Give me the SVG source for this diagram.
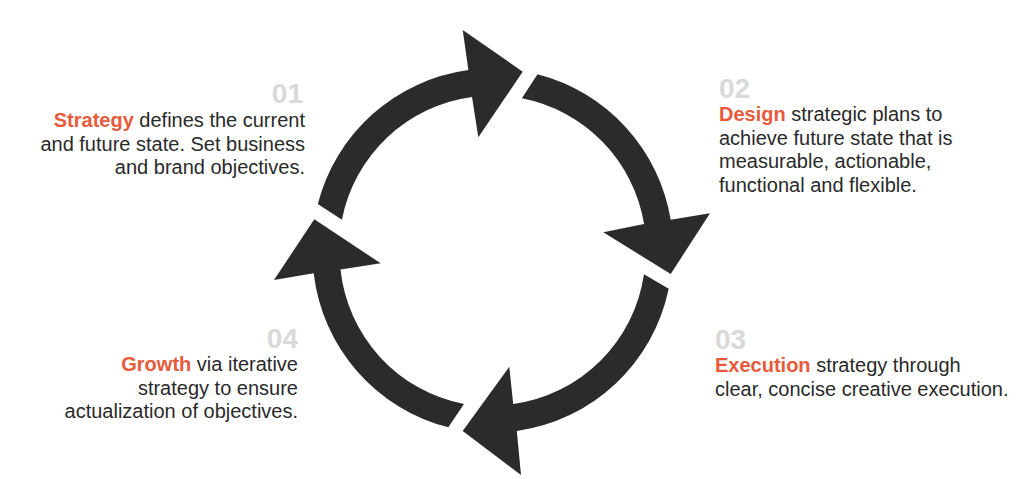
<svg xmlns="http://www.w3.org/2000/svg" width="1024" height="479" viewBox="0 0 1024 479">
<style>
.arrow{fill:#2b2b2b;}
.num{font-family:"Liberation Sans",Arial,sans-serif;font-weight:bold;font-size:28px;fill:#d9d9d9;}
.txt{font-family:"Liberation Sans",Arial,sans-serif;font-size:20px;fill:#2a2a2a;}
.key{font-weight:bold;fill:#e85a3c;}
.r{text-anchor:end;}
</style>
<rect width="1024" height="479" fill="#ffffff"/>
<g id="connectors">
<path class="arrow" d="M317.8,204.1 A180.5,180.5 0 0 1 468.4,70.1 L462.7,30 L522.7,71.7 L478.3,137.3 L472.0,96.9 A153.5,153.5 0 0 0 341.9,219.7 Z"/>
<path class="arrow" d="M537.5,74.2 A180.5,180.5 0 0 1 670.7,219.7 L710,213.3 L670.7,274 L603.3,232.3 L644.1,224.1 A153.5,153.5 0 0 0 521.9,98.3 Z"/>
<path class="arrow" d="M668.7,288.7 A180.5,180.5 0 0 1 516.8,430.9 L521,475 L462.7,431 L509.3,366.7 L513.2,404.1 A153.5,153.5 0 0 0 644.0,274.3 Z"/>
<path class="arrow" d="M448.3,427.3 A180.5,180.5 0 0 1 313.7,273.2 L274,280 L314.3,219.3 L380.7,263.3 L340.5,269.6 A153.5,153.5 0 0 0 464,404 Z"/>
</g>
<g id="step01">
<text class="num r" x="303" y="103">01</text>
<text class="txt r" x="305" y="127"><tspan class="key">Strategy</tspan> defines the current</text>
<text class="txt r" x="305" y="150.5">and future state. Set business</text>
<text class="txt r" x="305" y="174">and brand objectives.</text>
</g>
<g id="step02">
<text class="num" x="719" y="98">02</text>
<text class="txt" x="719" y="121"><tspan class="key">Design</tspan> strategic plans to</text>
<text class="txt" x="719" y="144.5">achieve future state that is</text>
<text class="txt" x="719" y="168">measurable, actionable,</text>
<text class="txt" x="719" y="191.5">functional and flexible.</text>
</g>
<g id="step03">
<text class="num" x="715" y="349">03</text>
<text class="txt" x="715" y="372"><tspan class="key">Execution</tspan> strategy through</text>
<text class="txt" x="715" y="395.5">clear, concise creative execution.</text>
</g>
<g id="step04">
<text class="num r" x="298" y="348">04</text>
<text class="txt r" x="298" y="371"><tspan class="key">Growth</tspan> via iterative</text>
<text class="txt r" x="298" y="394.5">strategy to ensure</text>
<text class="txt r" x="298" y="418">actualization of objectives.</text>
</g>
</svg>
